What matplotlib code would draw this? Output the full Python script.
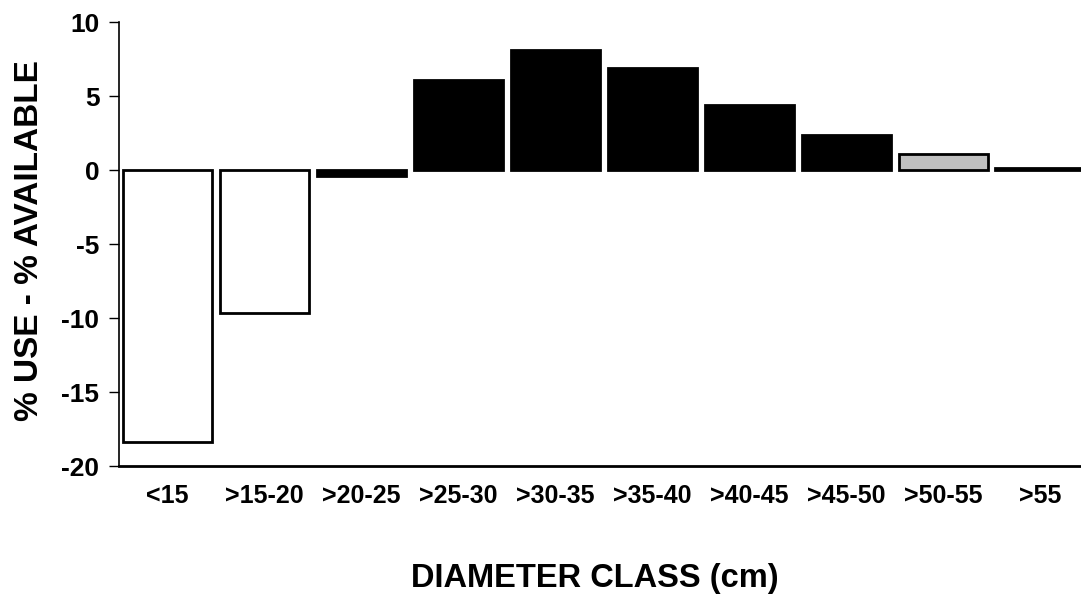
import matplotlib
matplotlib.use('Agg')
import matplotlib.pyplot as plt

# Data
classes = ['<15', '>15-20', '>20-25', '>25-30', '>30-35',
           '>35-40', '>40-45', '>45-50', '>50-55', '>55']
diff = [-18.4, -9.65, -0.4, 6.1, 8.1, 6.9, 4.4, 2.4, 1.1, 0.12]
colors = ['white', 'white', 'black', 'black', 'black',
          'black', 'black', 'black', '#c0c0c0', 'black']

plt.rcParams['font.family'] = ['Liberation Sans', 'DejaVu Sans']
plt.rcParams['font.weight'] = 'bold'
plt.rcParams['axes.unicode_minus'] = False

fig = plt.figure(figsize=(10.81, 5.96), dpi=100)
ax = fig.add_axes([0.110, 0.218, 0.897, 0.745])

x = list(range(len(classes)))
ax.bar(x, diff, width=0.92, color=colors, edgecolor='black', linewidth=2)

ax.set_xlim(-0.5, len(classes) - 0.5)
ax.set_ylim(-20, 10)
ax.set_yticks([-20, -15, -10, -5, 0, 5, 10])
ax.set_xticks(x)
ax.set_xticklabels(classes, fontsize=18, fontweight='bold')
ax.tick_params(axis='y', labelsize=19, length=7, width=1, direction='out',
               pad=7)
ax.tick_params(axis='x', length=0, pad=13)
for lbl in ax.get_yticklabels():
    lbl.set_fontweight('bold')

ax.spines['top'].set_visible(False)
ax.spines['right'].set_visible(False)
ax.spines['left'].set_linewidth(1.2)
ax.spines['bottom'].set_linewidth(2)

fig.text(0.55, 0.029, 'DIAMETER CLASS (cm)', ha='center', va='center',
         fontsize=23.5, fontweight='bold')
fig.text(0.027, 0.597, '% USE - % AVAILABLE', ha='center', va='center',
         rotation=90, fontsize=24, fontweight='bold')

fig.savefig('out.png', dpi=100)
